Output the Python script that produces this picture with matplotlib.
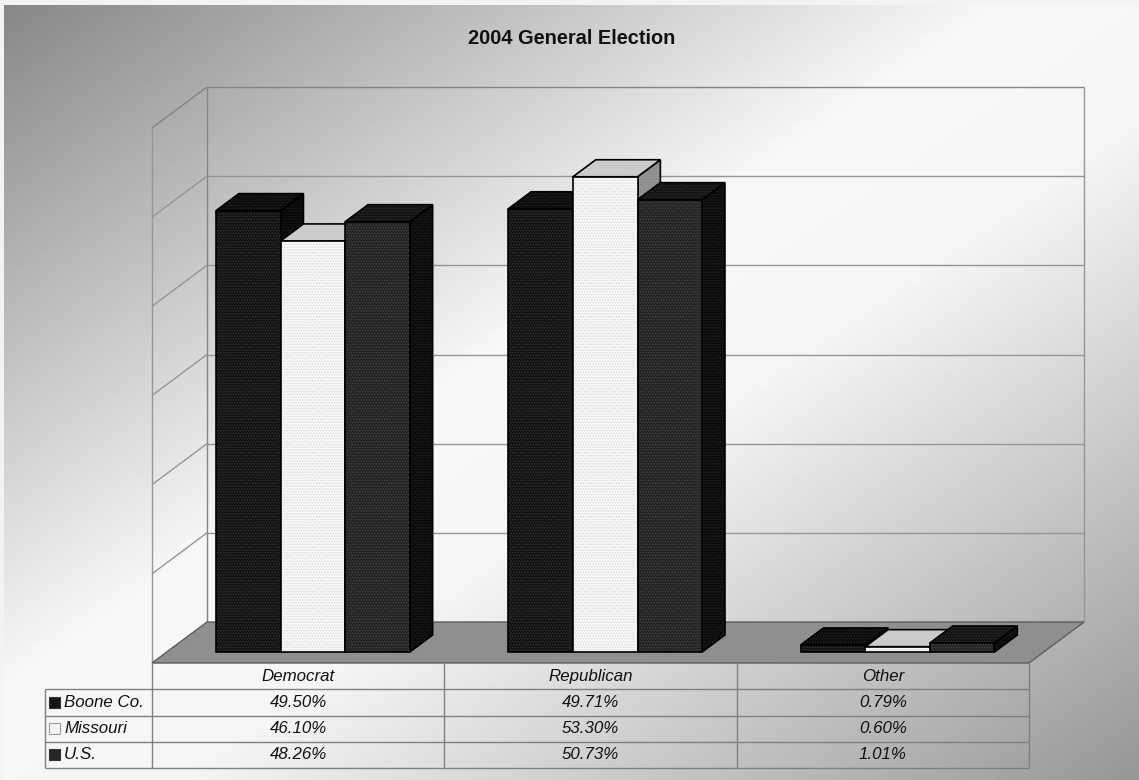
import numpy as np
import matplotlib
matplotlib.use("Agg")
import matplotlib.pyplot as plt
from matplotlib.patches import Polygon, Rectangle

# ---- data ----
categories = ["Democrat", "Republican", "Other"]
series_names = ["Boone Co.", "Missouri", "U.S."]
boone = [49.50, 49.71, 0.79]
missouri = [46.10, 53.30, 0.60]
us = [48.26, 50.73, 1.01]
title = "2004 General Election"
y_max = 60
grid_step = 10

series_values = [boone, missouri, us]

# ---- styles ----
FONT = "Liberation Sans"
plt.rcParams["font.family"] = [FONT, "DejaVu Sans"]
plt.rcParams["hatch.linewidth"] = 0.6

face_styles = [
    dict(front="#141414", top="#0c0c0c", side="#080808",
         front_dots="#353535", top_dots="#262626", side_dots="#1e1e1e"),
    dict(front="#f7f7f7", top="#c9c9c9", side="#8e8e8e",
         front_dots="#d8d8d8", top_dots="#d6d6d6", side_dots="#9a9a9a"),
    dict(front="#242424", top="#141414", side="#0b0b0b",
         front_dots="#474747", top_dots="#2e2e2e", side_dots="#222222"),
]
swatch_colors = ["#151515", "#f4f4f4", "#262626"]
grid_color = "#969696"
wall_edge = "#858585"
table_line = "#808080"
floor_color = "#8f8f8f"

W, H = 1139, 780
fig = plt.figure(figsize=(W / 100, H / 100), dpi=100)

# ---- diagonal gradient backdrop ----
bg = fig.add_axes([0, 0, 1, 1], zorder=0)
u = np.linspace(0, 1, W)[None, :]
v = np.linspace(0, 1, H)[:, None]
t = (u + v) / 2.0
shade = np.interp(t, [0.0, 0.44, 0.58, 1.0], [134, 247, 245, 150]) / 255.0
bg.imshow(shade, cmap="gray", vmin=0, vmax=1, extent=[0, 1, 0, 1],
          aspect="auto", origin="upper", interpolation="bilinear")
bg.add_patch(Rectangle((0, 1 - 5 / H), 1, 5 / H, color="#f3f3f3", lw=0))
bg.add_patch(Rectangle((0, 0), 4 / W, 1, color="#f3f3f3", lw=0))
bg.set_xlim(0, 1)
bg.set_ylim(0, 1)
bg.axis("off")

# ---- plot plane (front of the floor) ----
plot_left, plot_right, plot_top, plot_bottom = 152, 1029, 128, 663
ax = fig.add_axes([plot_left / W, (H - plot_bottom) / H,
                   (plot_right - plot_left) / W, (plot_bottom - plot_top) / H],
                  zorder=2)
n_cat = len(categories)
ax.set_xlim(-0.5, n_cat - 0.5)
ax.set_ylim(0, y_max)
ax.axis("off")

# oblique depth vector (pixels right, pixels up) converted to data units
depth_px = np.array([55.0, 41.0])
origin = ax.transData.transform((0, 0))
DX, DY = ax.transData.inverted().transform(origin + depth_px)


def P(x, y, z):
    return (x + z * DX, y + z * DY)


zo = [3]


def poly(pts, fc, ec="black", lw=1.2, dots=None):
    zo[0] += 1
    ax.add_patch(Polygon(pts, closed=True, facecolor=fc, edgecolor="none",
                         lw=0, clip_on=False, zorder=zo[0]))
    if dots is not None:
        ax.add_patch(Polygon(pts, closed=True, facecolor="none", edgecolor=dots,
                             hatch="......", lw=0, clip_on=False, zorder=zo[0]))
    ax.add_patch(Polygon(pts, closed=True, facecolor="none", edgecolor=ec,
                         lw=lw, clip_on=False, zorder=zo[0], joinstyle="miter"))


def line(p, q, color=grid_color, lw=1.0, z=2):
    ax.plot([p[0], q[0]], [p[1], q[1]], color=color, lw=lw,
            clip_on=False, zorder=z, solid_capstyle="butt")


x0, x1 = -0.5, n_cat - 0.5

# floor
poly([P(x0, 0, 0), P(x1, 0, 0), P(x1, 0, 1), P(x0, 0, 1)],
     floor_color, ec="#5e5e5e", lw=1.0)

# back wall and side wall gridlines
levels = np.arange(grid_step, y_max + grid_step / 2, grid_step)
for g in levels:
    c = wall_edge if g == y_max else grid_color
    line(P(x0, g, 1), P(x1, g, 1), color=c)
    line(P(x0, g, 0), P(x0, g, 1), color=c)
line(P(x0, 0, 1), P(x0, y_max, 1), color=wall_edge)
line(P(x1, 0, 1), P(x1, y_max, 1), color=grid_color)
line(P(x0, 0, 0), P(x0, y_max, 0), color=grid_color)

# bars
group_w = 0.663
bar_w = group_w / len(series_values)
z_front, z_back = 0.268, 0.683
for i in range(n_cat):
    for j, vals in enumerate(series_values):
        val = vals[i]
        st = face_styles[j]
        xl = i - group_w / 2 + j * bar_w
        xr = xl + bar_w
        poly([P(xr, 0, z_front), P(xr, 0, z_back), P(xr, val, z_back), P(xr, val, z_front)],
             st["side"], dots=st["side_dots"])
        poly([P(xl, val, z_front), P(xr, val, z_front), P(xr, val, z_back), P(xl, val, z_back)],
             st["top"], dots=st["top_dots"])
        poly([P(xl, 0, z_front), P(xr, 0, z_front), P(xr, val, z_front), P(xl, val, z_front)],
             st["front"], dots=st["front_dots"])

# ---- data table ----
tab_left, tab_bottom = 45, 768
cat_px = (plot_right - plot_left) / n_cat
tax = fig.add_axes([tab_left / W, (H - tab_bottom) / H,
                    (plot_right - tab_left) / W, (tab_bottom - plot_bottom) / H],
                   zorder=2)
x_leg = x0 - (plot_left - tab_left) / cat_px
n_rows = len(series_values) + 1
tax.set_xlim(x_leg, x1)
tax.set_ylim(n_rows, 0)
tax.axis("off")


def tline(p, q):
    tax.plot([p[0], q[0]], [p[1], q[1]], color=table_line, lw=1.0,
             clip_on=False, zorder=3, solid_capstyle="butt")


for r in range(1, n_rows + 1):
    tline((x_leg, r), (x1, r))
tline((x_leg, 1), (x_leg, n_rows))
tline((x0, 0), (x0, n_rows))
for k in range(1, n_cat):
    tline((x0 + k, 0), (x0 + k, n_rows))
tline((x1, 0), (x1, n_rows))

txt_kw = dict(fontsize=12.2, style="italic", color="#111111", family=[FONT, "DejaVu Sans"])
for i, cat in enumerate(categories):
    tax.text(i, 0.5, cat, ha="center", va="center", **txt_kw)
for j, vals in enumerate(series_values):
    for i, val in enumerate(vals):
        tax.text(i, j + 1.5, f"{val:.2f}%", ha="center", va="center", **txt_kw)

# legend keys in the first column
sw_w = 11 / cat_px
sw_h = 11 / ((tab_bottom - plot_bottom) / n_rows)
sw_x = x_leg + 4 / cat_px
for j, name in enumerate(series_names):
    yc = j + 1.5
    tax.add_patch(Rectangle((sw_x, yc - sw_h / 2), sw_w, sw_h,
                            facecolor=swatch_colors[j],
                            edgecolor="#9a9a9a" if j == 1 else "#333333",
                            lw=0.8, clip_on=False, zorder=4))
    tax.text(sw_x + sw_w + 4 / cat_px, yc, name, ha="left", va="center", **txt_kw)

fig.text(572 / W, 1 - 39 / H, title, ha="center", va="center",
         fontsize=14.4, fontweight="bold", color="#111111", family=[FONT, "DejaVu Sans"])

fig.savefig("out.png", dpi=100)
